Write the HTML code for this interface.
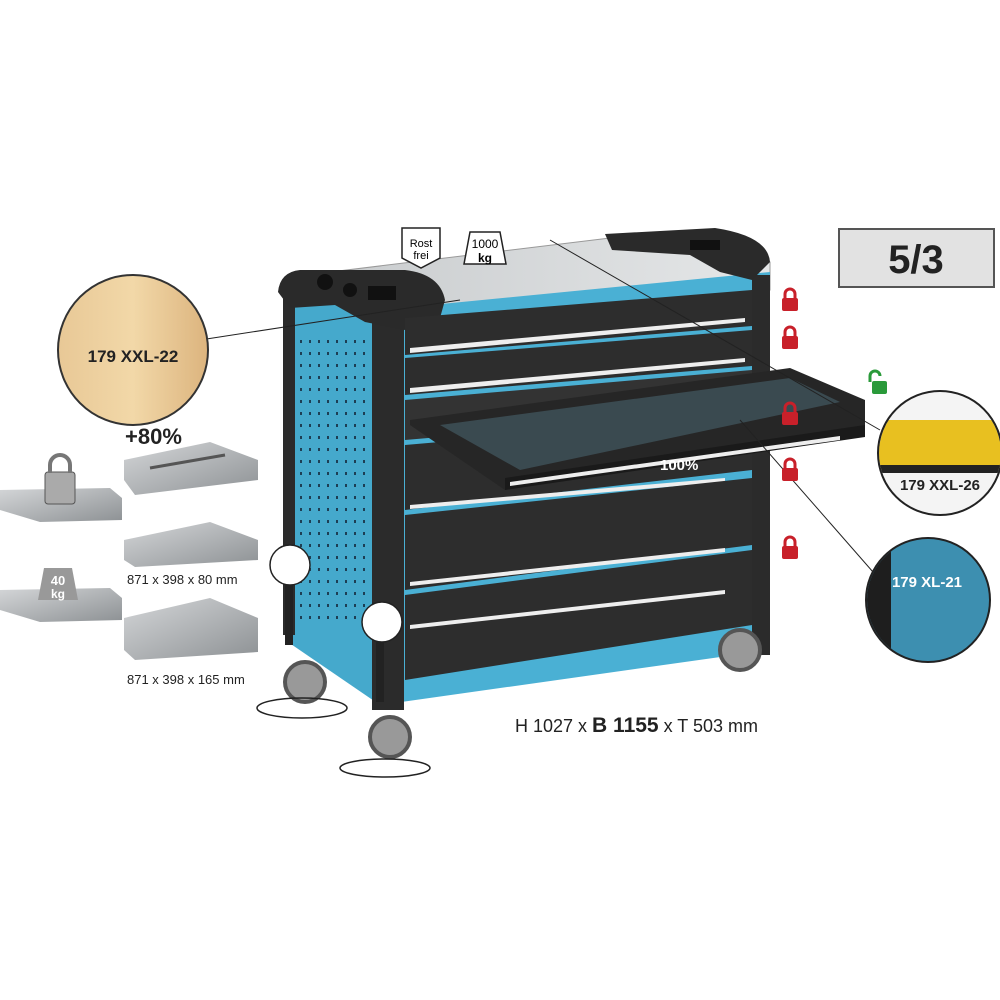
<!DOCTYPE html>
<html><head><meta charset="utf-8"><style>
html,body{margin:0;padding:0;background:#fff;width:1000px;height:1000px;overflow:hidden}
svg{display:block}
text{font-family:"Liberation Sans",sans-serif}
</style></head><body>
<svg width="1000" height="1000" viewBox="0 0 1000 1000" xmlns="http://www.w3.org/2000/svg">
<defs>
<pattern id="dots" width="9" height="12" patternUnits="userSpaceOnUse"><rect x="3" y="4" width="2" height="3" fill="#1d3f55"/></pattern>
<linearGradient id="wood" x1="0" x2="1"><stop offset="0" stop-color="#e8c896"/><stop offset="0.5" stop-color="#f2d8a8"/><stop offset="1" stop-color="#dcb47e"/></linearGradient>
<linearGradient id="top" x1="0" x2="1"><stop offset="0" stop-color="#c9ccce"/><stop offset="1" stop-color="#e5e7e8"/></linearGradient>
<linearGradient id="tray" y1="0" y2="1"><stop offset="0" stop-color="#d4d6d8"/><stop offset="1" stop-color="#8d9194"/></linearGradient>
<clipPath id="c1"><circle cx="940" cy="453" r="61"/></clipPath>
<clipPath id="c2"><circle cx="928" cy="600" r="61"/></clipPath>
</defs>

<rect x="839" y="229" width="155" height="58" fill="#e2e2e2" stroke="#555" stroke-width="2"/>
<text x="916" y="273" font-size="40" font-weight="bold" text-anchor="middle" fill="#222">5/3</text>

<!-- worktop -->
<polygon points="330,272 610,238 770,262 770,290 405,322 330,300" fill="url(#top)" stroke="#999"/>
<!-- side panel -->
<polygon points="285,290 380,310 380,705 285,640" fill="#45a9cc"/>
<rect x="295" y="340" width="70" height="280" fill="url(#dots)"/>
<!-- front blue frame -->
<polygon points="380,310 770,272 770,650 380,705" fill="#4ab0d4"/>
<rect x="372" y="315" width="32" height="395" fill="#2b2b2b"/>
<rect x="752" y="275" width="18" height="380" fill="#2b2b2b"/>
<rect x="283" y="290" width="12" height="345" fill="#2b2b2b"/>
<!-- top handles -->
<path d="M278,292 Q280,272 300,270 L405,270 Q440,274 445,300 L440,318 L405,330 L365,322 L335,305 L290,308 Z" fill="#2a2a2a"/>
<circle cx="325" cy="282" r="8" fill="#111"/><circle cx="350" cy="290" r="7" fill="#111"/>
<rect x="368" y="286" width="28" height="14" fill="#111"/>
<path d="M605,234 L715,228 Q768,236 770,262 L752,280 L720,272 L690,255 L612,250 Z" fill="#2a2a2a"/>
<rect x="690" y="240" width="30" height="10" fill="#111"/>
<!-- drawers -->
<polygon points="405,318 752,290 752,326 405,355" fill="#2d2d2d"/>
<polygon points="410,348 745,318 745,322 410,353" fill="#eee"/>
<polygon points="405,358 752,330 752,366 405,395" fill="#2d2d2d"/>
<polygon points="410,388 745,358 745,362 410,393" fill="#eee"/>
<polygon points="405,400 752,370 752,410 405,440" fill="#333"/>
<polygon points="405,445 752,415 752,470 405,510" fill="#2d2d2d"/>
<polygon points="410,505 725,478 725,482 410,509" fill="#eee"/>
<polygon points="405,515 752,478 752,545 405,590" fill="#2d2d2d"/>
<polygon points="410,582 725,548 725,552 410,586" fill="#eee"/>
<polygon points="405,595 752,550 752,625 405,680" fill="#2d2d2d"/>
<polygon points="410,625 725,590 725,594 410,629" fill="#eee"/>
<!-- open drawer -->
<polygon points="410,420 790,368 865,400 865,435 505,490 410,425" fill="#262626"/>
<polygon points="440,425 790,378 840,402 520,470" fill="#3a4a50"/>
<polygon points="505,478 865,425 865,437 505,490" fill="#1a1a1a"/>
<polygon points="510,482 840,436 840,440 510,486" fill="#eee"/>
<text x="660" y="470" font-size="15" font-weight="bold" fill="#fff">100%</text>
<!-- wheels -->
<circle cx="305" cy="682" r="20" fill="#999" stroke="#555" stroke-width="4"/>
<circle cx="740" cy="650" r="20" fill="#999" stroke="#555" stroke-width="4"/>
<circle cx="390" cy="737" r="20" fill="#999" stroke="#555" stroke-width="4"/>
<ellipse cx="302" cy="708" rx="45" ry="10" fill="none" stroke="#222" stroke-width="1.5"/>
<ellipse cx="385" cy="768" rx="45" ry="9" fill="none" stroke="#222" stroke-width="1.5"/>
<circle cx="290" cy="565" r="20" fill="#fff" stroke="#222" stroke-width="1.5"/>
<circle cx="382" cy="622" r="20" fill="#fff" stroke="#222" stroke-width="1.5"/>
<rect x="285" y="585" width="8" height="60" fill="#222"/>
<rect x="376" y="642" width="8" height="60" fill="#222"/>
<!-- icons -->
<path d="M402,228 L440,228 L440,258 L421,268 L402,258 Z" fill="#fff" stroke="#222" stroke-width="1.5"/>
<text x="421" y="247" font-size="11" font-family="Liberation Serif" text-anchor="middle">Rost</text>
<text x="421" y="259" font-size="11" font-family="Liberation Serif" text-anchor="middle">frei</text>
<path d="M470,232 L500,232 L506,264 L464,264 Z" fill="#fff" stroke="#222" stroke-width="1.5"/>
<text x="485" y="248" font-size="12" text-anchor="middle">1000</text>
<text x="485" y="262" font-size="12" font-weight="bold" text-anchor="middle">kg</text>

<line x1="200" y1="340" x2="460" y2="300" stroke="#222" stroke-width="1"/>
<line x1="550" y1="240" x2="880" y2="430" stroke="#222" stroke-width="1"/>
<line x1="740" y1="420" x2="880" y2="580" stroke="#222" stroke-width="1"/>

<g fill="#c8202a">
<rect x="782" y="298" width="16" height="13" rx="2"/><rect x="782" y="336" width="16" height="13" rx="2"/>
<rect x="782" y="412" width="16" height="13" rx="2"/><rect x="782" y="468" width="16" height="13" rx="2"/>
<rect x="782" y="546" width="16" height="13" rx="2"/>
</g>
<g fill="none" stroke="#c8202a" stroke-width="3">
<path d="M785,299 v-5 a5,5 0 0 1 10,0 v5"/><path d="M785,337 v-5 a5,5 0 0 1 10,0 v5"/>
<path d="M785,413 v-5 a5,5 0 0 1 10,0 v5"/><path d="M785,469 v-5 a5,5 0 0 1 10,0 v5"/>
<path d="M785,547 v-5 a5,5 0 0 1 10,0 v5"/>
</g>
<rect x="872" y="381" width="15" height="13" rx="2" fill="#2a9a3a"/>
<path d="M870,382 v-6 a5,5 0 0 1 10,0" fill="none" stroke="#2a9a3a" stroke-width="3"/>

<circle cx="133" cy="350" r="75" fill="url(#wood)" stroke="#333" stroke-width="2"/>
<text x="133" y="362" font-size="17" font-weight="bold" text-anchor="middle" fill="#222">179 XXL-22</text>
<circle cx="940" cy="453" r="62" fill="#f4f4f4"/>
<g clip-path="url(#c1)">
<rect x="878" y="420" width="125" height="50" fill="#e8c020"/>
<rect x="878" y="465" width="125" height="8" fill="#222"/>
</g>
<circle cx="940" cy="453" r="62" fill="none" stroke="#222" stroke-width="2"/>
<text x="940" y="490" font-size="15" font-weight="bold" text-anchor="middle" fill="#222">179 XXL-26</text>
<circle cx="928" cy="600" r="62" fill="#3d8fb0"/>
<g clip-path="url(#c2)"><rect x="866" y="535" width="25" height="130" fill="#1e1e1e"/></g>
<circle cx="928" cy="600" r="62" fill="none" stroke="#222" stroke-width="2"/>
<text x="927" y="587" font-size="15" font-weight="bold" text-anchor="middle" fill="#fff">179 XL-21</text>

<polygon points="0,490 110,488 122,498 122,520 40,522 0,510" fill="url(#tray)"/>
<rect x="45" y="472" width="30" height="32" rx="3" fill="#aaa" stroke="#555"/>
<path d="M50,473 v-8 a10,10 0 0 1 20,0 v8" fill="none" stroke="#777" stroke-width="4"/>
<polygon points="0,590 110,588 122,598 122,620 40,622 0,610" fill="url(#tray)"/>
<path d="M44,568 L72,568 L78,600 L38,600 Z" fill="#999"/>
<text x="58" y="585" font-size="13" font-weight="bold" text-anchor="middle" fill="#fff">40</text>
<text x="58" y="598" font-size="12" font-weight="bold" text-anchor="middle" fill="#fff">kg</text>
<text x="125" y="444" font-size="22" font-weight="bold" fill="#222">+80%</text>
<polygon points="124,460 210,442 258,460 258,480 135,495 124,480" fill="url(#tray)"/>
<line x1="150" y1="468" x2="225" y2="455" stroke="#555" stroke-width="3"/>
<polygon points="124,540 210,522 258,540 258,560 135,567 124,560" fill="url(#tray)"/>
<polygon points="124,618 210,598 258,618 258,652 135,660 124,650" fill="url(#tray)"/>
<text x="127" y="584" font-size="13" fill="#222">871 x 398 x 80 mm</text>
<text x="127" y="684" font-size="13" fill="#222">871 x 398 x 165 mm</text>

<text x="515" y="732" font-size="18" fill="#222">H 1027 x <tspan font-weight="bold" font-size="21">B 1155</tspan> x T 503 mm</text>
</svg>
</body></html>
